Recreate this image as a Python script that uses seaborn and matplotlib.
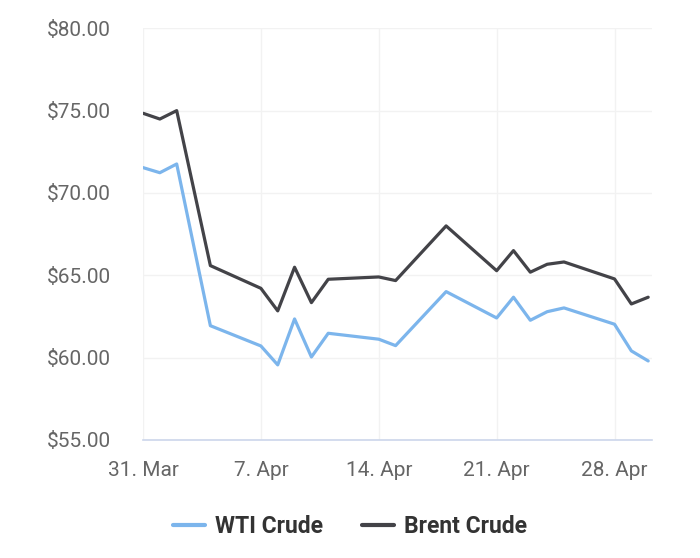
import matplotlib
matplotlib.use("Agg")
import matplotlib.pyplot as plt
import matplotlib.dates as mdates
import matplotlib.ticker as mticker
import seaborn as sns
import pandas as pd

# Daily crude prices, April 2025
dates = [
    "2025-03-31", "2025-04-01", "2025-04-02", "2025-04-04", "2025-04-07",
    "2025-04-08", "2025-04-09", "2025-04-10", "2025-04-11", "2025-04-14",
    "2025-04-15", "2025-04-18", "2025-04-21", "2025-04-22", "2025-04-23",
    "2025-04-24", "2025-04-25", "2025-04-28", "2025-04-29", "2025-04-30",
]
wti = [71.54, 71.23, 71.76, 61.94, 60.71, 59.56, 62.35, 60.04, 61.48, 61.12,
       60.73, 64.01, 62.41, 63.67, 62.27, 62.79, 63.02, 62.03, 60.41, 59.80]
brent = [74.84, 74.49, 75.00, 65.59, 64.21, 62.84, 65.49, 63.34, 64.76, 64.90,
         64.68, 68.00, 65.28, 66.50, 65.19, 65.67, 65.81, 64.78, 63.26, 63.67]
series_names = ["WTI Crude", "Brent Crude"]
colors = ["#7cb5ec", "#434348"]
y_ticks = [55, 60, 65, 70, 75, 80]

df = pd.DataFrame({"date": pd.to_datetime(dates), "WTI Crude": wti, "Brent Crude": brent})
long_df = df.melt(id_vars="date", var_name="series", value_name="price")

sns.set_style("white")
plt.rcParams["font.family"] = ["Roboto", "DejaVu Sans"]

fig = plt.figure(figsize=(7, 5.58), dpi=100)
ax = fig.add_axes([0.2043, 0.2115, 0.7267, 0.7378])

sns.lineplot(data=long_df, x="date", y="price", hue="series",
             hue_order=series_names, palette=colors, linewidth=2.3, ax=ax)

ax.set_ylim(55, 80)
ax.set_xlim(pd.Timestamp("2025-03-31"), pd.Timestamp("2025-04-30 05:00"))
ax.set_yticks(y_ticks)
ax.yaxis.set_major_formatter(mticker.FuncFormatter(lambda v, _: f"${v:.2f}"))
ax.xaxis.set_major_locator(mdates.WeekdayLocator(byweekday=mdates.MO))
ax.xaxis.set_major_formatter(mdates.DateFormatter("%-d. %b"))

ax.grid(True, color="#f2f2f2", linewidth=1)
ax.set_axisbelow(True)
for side in ["top", "right", "left"]:
    ax.spines[side].set_visible(False)
ax.spines["bottom"].set_color("#ccd6eb")
ax.spines["bottom"].set_linewidth(1.2)
ax.tick_params(axis="x", length=9, width=1, color="#ccd6eb", pad=6,
               labelsize=15, labelcolor="#666666")
ax.tick_params(axis="y", length=0, pad=23, labelsize=15, labelcolor="#666666")
ax.set_xlabel("")
ax.set_ylabel("")

handles, labels = ax.get_legend_handles_labels()
ax.get_legend().remove()
leg = fig.legend(handles, labels, loc="center", bbox_to_anchor=(0.5, 0.056),
                 ncol=2, frameon=False, handlelength=1.4, handletextpad=0.45,
                 columnspacing=1.7, prop={"weight": "bold", "size": 16.5})
for text in leg.get_texts():
    text.set_color("#333333")
for line in leg.get_lines():
    line.set_linewidth(3)

fig.savefig("out.png", dpi=100)
